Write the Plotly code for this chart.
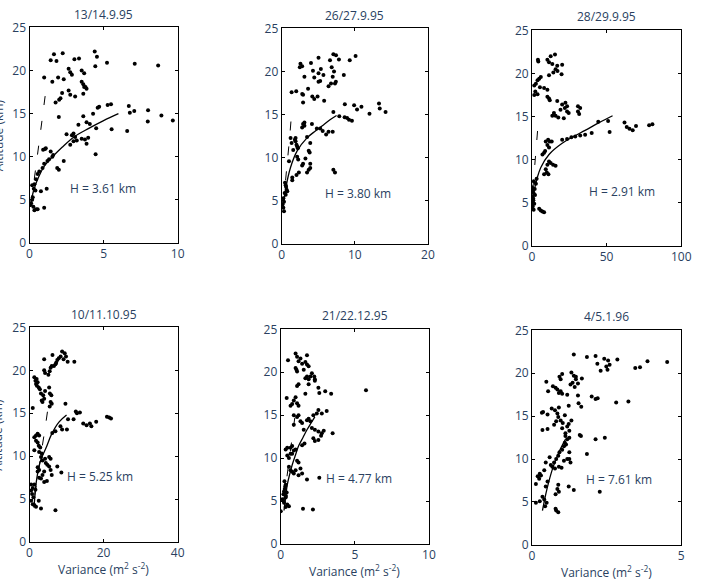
import plotly.graph_objects as go
from plotly.subplots import make_subplots

titles = ["13/14.9.95", "26/27.9.95", "28/29.9.95", "10/11.10.95", "21/22.12.95", "4/5.1.96"]
h_labels = ["H = 3.61 km", "H = 3.80 km", "H = 2.91 km", "H = 5.25 km", "H = 4.77 km", "H = 7.61 km"]
x_ranges = [[0, 10], [0, 20], [0, 100], [0, 40], [0, 10], [0, 5]]
x_ticks = [[0, 5, 10], [0, 10, 20], [0, 50, 100], [0, 20, 40], [0, 5, 10], [0, 5]]
y_ticks = [0, 5, 10, 15, 20, 25]
label_pos = [(4.95, 6.3), (10.4, 5.8), (60.2, 6.3), (18.9, 7.6), (5.3, 7.6), (2.93, 7.6)]

# ---- panel 1 ----
p1_var = [1.43, 1.65, 1.82, 2.24, 0.99, 1.54, 1.93, 2.31, 2.2, 2.09, 2.0, 1.76, 2.64, 2.75, 2.64, 2.75, 2.86,
          3.03, 3.34, 3.52, 3.69, 3.52, 3.63, 3.69, 3.78, 3.85, 3.63, 3.08, 4.4, 4.55, 4.44, 5.23, 7.1, 8.68, 1.98,
          4.6, 4.7, 5.27, 5.5, 6.7, 6.77, 7.07, 8.0, 8.9, 9.67, 7.98, 6.59, 5.54, 4.5, 4.29, 3.63, 3.85, 3.3, 2.97,
          2.86, 3.08, 2.75, 2.97, 3.19, 3.52, 3.74, 3.85, 3.96, 4.07, 4.46, 2.31, 1.87, 1.98, 1.43, 1.54, 1.32,
          1.21, 0.99, 0.88, 0.92, 1.05, 0.66, 0.55, 0.44, 0.33, 0.18, 0.29, 0.4, 0.77, 1.16, 0.18, 0.11, 0.26,
          0.44, 0.33, 0.55, 0.99, 0.07, 0.22, 1.1, 1.6, 2.5]
p1_alt = [21.2, 21.9, 21.1, 22.0, 19.2, 18.7, 19.2, 19.0, 17.4, 16.8, 16.6, 16.3, 17.7, 17.2, 20.2, 19.8, 19.5,
          21.3, 21.4, 20.0, 19.7, 18.7, 18.4, 18.1, 18.1, 17.9, 17.3, 17.0, 22.2, 21.6, 20.5, 20.9, 20.8, 20.6, 14.6,
          15.7, 15.8, 16.0, 16.1, 15.9, 15.1, 15.3, 15.4, 14.8, 14.2, 14.1, 13.0, 13.2, 13.3, 15.0, 14.7, 14.0, 13.7,
          12.7, 12.5, 12.3, 11.4, 11.8, 11.9, 12.1, 12.0, 11.5, 12.2, 13.8, 10.3, 9.5, 8.7, 8.5, 10.6, 10.0, 9.7,
          9.5, 9.2, 8.7, 10.8, 10.9, 8.3, 8.0, 7.4, 6.8, 6.7, 6.3, 6.1, 6.0, 6.3, 5.0, 4.6, 4.2, 3.9, 3.8, 3.9,
          4.1, 4.4, 5.3, 11.0, 10.2, 12.6]
p1_fit_var = [0.1, 0.3, 0.6, 1.0, 1.5, 2.2, 3.0, 4.0, 5.0, 6.0]
p1_fit_alt = [4.8, 6.2, 7.6, 8.9, 9.9, 11.1, 12.3, 13.3, 14.2, 15.0]
p1_dash_var = [0.1, 0.35, 0.6, 0.85, 1.15]
p1_dash_alt = [4.5, 7.6, 10.9, 14.3, 18.3]

# ---- panel 2 ----
p2_var = [2.56, 2.79, 2.47, 3.1, 4.0, 5.03, 4.27, 4.45, 5.03, 5.35, 5.7, 5.26, 5.03, 6.6, 7.06, 7.42, 7.82, 6.83,
          7.15, 6.97, 6.74, 7.28, 7.4, 6.4, 8.49, 9.3, 10.1, 1.98, 1.35, 2.8, 2.92, 3.6, 4.18, 4.45, 4.9, 5.8, 2.92,
          8.63, 9.9, 10.3, 10.9, 12.0, 13.3, 13.4, 14.2, 7.06, 7.87, 8.6, 8.94, 9.2, 9.6, 6.07, 6.4, 6.97, 4.8,
          5.26, 5.6, 4.13, 3.1, 2.92, 3.1, 2.79, 3.46, 3.9, 3.69, 3.82, 3.24, 2.92, 2.79, 3.9, 3.9, 3.69, 3.46,
          2.34, 2.02, 1.44, 1.44, 2.11, 2.25, 0.99, 1.89, 1.89, 2.02, 2.11, 1.35, 1.21, 1.57, 7.06, 7.28, 0.54,
          0.67, 0.4, 0.22, 0.31, 0.09, 0.22, 0.31, 0.54, 0.76, 1.8, 2.2, 0.45, 0.6]
p2_alt = [20.9, 20.6, 20.5, 19.4, 21.0, 21.6, 20.1, 19.3, 19.8, 20.3, 19.6, 18.9, 18.8, 21.3, 22.0, 21.9, 21.4, 20.5,
          20.0, 19.4, 18.6, 18.6, 18.8, 18.3, 19.6, 21.3, 21.8, 17.7, 17.6, 17.4, 16.4, 18.0, 17.1, 16.8, 17.1, 16.6, 17.3,
          16.2, 16.1, 15.6, 15.9, 15.1, 16.3, 15.7, 15.3, 15.3, 14.8, 14.7, 14.6, 14.4, 14.3, 12.7, 13.0, 13.0, 13.4,
          13.4, 13.1, 13.9, 14.1, 13.9, 13.7, 13.5, 12.4, 11.7, 10.8, 10.6, 9.9, 9.3, 9.1, 9.3, 8.8, 8.6, 8.3,
          8.3, 8.0, 7.7, 7.4, 10.1, 9.8, 9.6, 12.3, 11.9, 11.5, 11.3, 11.7, 12.3, 10.9, 8.6, 8.3, 6.8,
          6.3, 5.9, 5.3, 4.9, 4.6, 4.2, 3.8, 5.7, 6.1, 12.1, 11.1, 7.1, 6.6]
p2_fit_var = [0.22, 0.54, 1.21, 2.11, 3.46, 4.6, 5.7, 6.6, 7.5]
p2_fit_alt = [4.2, 6.4, 8.9, 10.8, 12.3, 13.1, 13.8, 14.4, 14.9]
p2_dash_var = [0.2, 0.55, 0.85, 1.1, 1.35]
p2_dash_alt = [4.5, 7.5, 10.0, 12.5, 15.2]

# ---- panel 3 ----
p3_var = [4.2, 3.96, 10.3, 12.5, 15.4, 11.4, 13.6, 16.9, 20.2, 15.8, 17.1, 11.4, 14.3, 19.8, 4.8, 5.9, 3.7, 2.6,
          1.5, 5.3, 8.1, 10.3, 2.2, 1.5, 3.7, 10.3, 11.4, 11.9, 16.9, 20.2, 22.4, 22.0, 23.5, 23.5, 24.6, 19.1,
          14.7, 15.8, 13.6, 17.6, 21.3, 30.8, 32.3, 30.8, 31.6, 62.0, 63.5, 65.3, 67.5, 69.7, 78.5, 80.7, 52.0,
          51.0, 44.4, 40.0, 35.6, 32.3, 29.0, 26.4, 23.5, 20.2, 9.2, 10.8, 11.9, 13.2, 10.3, 11.4, 8.1, 7.0, 8.8,
          11.4, 12.5, 14.1, 15.8, 10.3, 9.2, 9.9, 11.0, 8.1, 0.4, 1.1, 0.0, 0.9, 1.5, 0.4, 1.1, 0.0, 2.6, 3.1,
          4.8, 5.9, 7.0, 8.1, 0.6, 0.8, 1.8, 2.0, 0.3, 1.2]
p3_alt = [21.4, 21.6, 21.6, 22.0, 22.2, 21.3, 21.1, 20.9, 21.0, 20.5, 20.3, 19.8, 20.1, 19.9, 19.4, 19.6, 19.2, 18.8,
          18.6, 18.4, 18.3, 18.1, 17.9, 17.5, 17.6, 17.3, 17.1, 16.9, 16.8, 16.4, 16.6, 16.0, 16.2, 15.6, 15.4, 15.8,
          15.4, 15.1, 15.1, 14.9, 14.8, 16.2, 16.0, 15.6, 15.3, 14.3, 13.8, 13.6, 13.4, 13.9, 14.0, 14.1, 13.2,
          14.5, 14.4, 13.1, 12.9, 12.8, 12.7, 12.6, 12.4, 12.3, 12.1, 12.3, 12.1, 12.1, 11.7, 11.4, 10.8, 10.6, 11.0,
          9.8, 9.6, 9.4, 9.3, 9.4, 8.9, 8.5, 8.3, 8.3, 6.4, 6.1, 5.7, 5.3, 4.9, 4.6, 4.2, 6.8, 7.2, 7.8,
          4.3, 4.1, 4.0, 3.9, 5.0, 5.5, 6.6, 5.9, 4.4, 7.5]
p3_fit_var = [0.4, 1.5, 3.5, 5.9, 11.4, 20.2, 28.0, 35.6, 45.0, 54.0]
p3_fit_alt = [4.2, 6.4, 7.9, 9.1, 10.6, 11.9, 12.7, 13.4, 14.3, 15.1]
p3_dash_var = [0.5, 1.5, 2.5, 3.5, 4.5]
p3_dash_alt = [6.5, 8.8, 11.0, 13.0, 15.0]

# ---- panel 4 ----
p4_var = [0.88, 1.3, 1.6, 1.76, 1.93, 2.2, 2.0, 2.5, 2.8, 3.1, 3.3, 3.96, 3.5, 3.7, 4.2, 3.96, 4.2, 3.96, 5.1,
          5.45, 5.7, 6.0, 6.2, 6.6, 7.0, 7.2, 7.5, 7.9, 8.4, 8.8, 9.5, 9.85, 9.2, 10.3, 12.1, 5.3, 5.5, 5.9, 5.7,
          5.45, 6.0, 9.7, 12.5, 12.8, 13.6, 11.9, 10.4, 10.1, 14.5, 15.4, 16.3, 16.7, 18.0, 20.9, 21.5, 22.0,
          8.35, 8.8, 7.0, 6.15, 1.3, 1.76, 2.2, 2.6, 1.76, 2.2, 2.5, 1.3, 2.6, 2.9, 3.3, 3.1, 3.5, 4.2, 5.3,
          5.7, 4.4, 4.8, 5.3, 5.7, 7.5, 8.6, 6.0, 3.96, 3.5, 3.1, 2.6, 3.96, 4.7, 2.2, 2.2, 2.6, 0.44, 0.88,
          0.44, 0.7, 1.05, 0.44, 0.88, 1.3, 1.76, 2.5, 3.1, 7.0, 1.3, 1.6]
p4_alt = [15.6, 19.2, 18.8, 18.4, 19.0, 18.6, 18.2, 18.0, 17.8, 17.3, 16.5, 16.7, 16.3, 17.1, 17.6, 20.0, 19.7, 21.3, 19.5,
          19.9, 20.3, 20.5, 21.8, 20.5, 20.7, 20.9, 21.2, 21.4, 21.6, 22.2, 22.0, 21.6, 21.3, 21.0, 21.0, 18.0, 17.3, 17.1, 16.3,
          15.8, 16.1, 16.1, 15.2, 15.0, 15.1, 14.3, 14.3, 13.1, 13.8, 13.6, 13.8, 13.5, 14.0, 14.6, 14.5, 14.4,
          13.5, 13.1, 12.9, 12.7, 12.2, 12.4, 12.6, 12.4, 11.8, 11.6, 11.2, 10.7, 10.5, 11.0, 10.3, 9.9, 9.5, 9.7, 9.9,
          9.7, 9.2, 9.0, 8.8, 8.4, 8.8, 8.1, 7.8, 8.2, 7.8, 7.4, 7.5, 7.0, 7.1, 8.2, 8.7, 8.4, 6.7, 6.3,
          6.0, 5.6, 5.2, 4.8, 4.4, 4.3, 4.1, 4.8, 3.9, 3.7, 6.7, 6.1]
p4_fit_var = [1.2, 1.6, 2.0, 3.0, 4.5, 6.0, 8.0, 10.0]
p4_fit_alt = [4.0, 6.0, 7.5, 9.5, 11.0, 12.6, 14.0, 14.8]
p4_dash_var = [1.4, 2.4, 3.4, 4.4, 5.3]
p4_dash_alt = [5.5, 8.2, 11.0, 13.8, 16.6]

# ---- panel 5 ----
p5_var = [0.49, 1.0, 1.1, 1.33, 1.2, 1.44, 1.77, 1.66, 1.77, 1.88, 1.0, 1.1, 1.06, 1.55, 2.1, 2.0, 1.77, 1.66,
          1.88, 2.26, 2.3, 1.2, 1.1, 1.88, 2.3, 1.66, 2.54, 2.6, 3.0, 3.4, 5.75, 0.4, 1.0, 0.88, 0.77, 0.66, 1.2,
          1.1, 0.88, 1.1, 1.2, 0.88, 1.33, 1.44, 1.77, 1.88, 2.0, 2.2, 2.54, 2.77, 3.1, 2.43, 1.55, 2.1, 2.3,
          2.54, 2.77, 2.9, 2.2, 2.3, 2.54, 2.72, 3.5, 1.6, 1.44, 0.33, 0.44, 0.66, 0.77, 0.88, 0.44, 0.55, 0.66,
          0.77, 1.0, 1.1, 1.2, 1.33, 1.0, 0.88, 1.2, 1.44, 1.77, 2.6, 0.55, 0.66, 0.77, 0.33, 0.27, 0.22, 0.18,
          0.33, 0.4, 0.11, 0.22, 0.44, 0.55, 0.33, 0.0, 1.5, 2.17, 0.25, 0.3, 0.35, 0.2]
p5_alt = [21.4, 22.2, 21.8, 21.6, 21.3, 21.0, 22.0, 21.2, 20.9, 20.7, 20.5, 20.1, 20.3, 20.3, 19.9, 19.5, 19.5, 19.3,
          19.2, 19.5, 19.2, 18.6, 18.4, 18.6, 19.0, 17.5, 18.2, 17.6, 17.8, 17.5, 17.9, 17.0, 17.1, 16.7, 16.3, 16.1, 16.1,
          16.4, 15.0, 14.8, 15.0, 13.9, 14.3, 14.1, 14.4, 14.6, 14.3, 15.0, 15.6, 15.2, 15.5, 15.2, 13.3, 13.5, 13.3,
          13.1, 12.9, 13.2, 12.3, 12.0, 12.1, 12.6, 12.9, 11.7, 11.5, 11.0, 11.2, 11.2, 11.4, 10.9, 10.3, 10.0, 10.5,
          10.5, 11.0, 9.7, 9.5, 8.8, 8.6, 8.2, 8.0, 8.2, 7.5, 7.7, 9.0, 8.6, 8.4, 6.9, 6.4, 6.1, 5.8,
          5.4, 6.0, 5.2, 4.8, 4.6, 4.4, 4.3, 3.8, 4.1, 4.0, 7.3, 6.7, 5.6, 5.0]
p5_fit_var = [0.22, 0.33, 0.44, 0.6, 0.77, 1.0, 1.2, 1.5, 1.77, 2.05, 2.3]
p5_fit_alt = [3.9, 5.5, 6.9, 8.1, 9.2, 10.4, 11.4, 12.4, 13.3, 14.1, 14.8]
p5_dash_var = [0.2, 0.4, 0.6, 0.8, 1.0]
p5_dash_alt = [5.0, 7.6, 10.2, 12.8, 15.4]

# ---- panel 6 ----
p6_var = [1.4, 1.84, 2.13, 2.42, 2.19, 2.55, 2.49, 2.6, 2.53, 2.3, 2.86, 3.46, 3.62, 3.87, 4.53, 0.48, 0.54, 0.7,
          0.79, 0.85, 0.9, 0.96, 1.01, 0.92, 1.01, 0.96, 1.32, 1.4, 1.47, 1.36, 1.29, 1.43, 1.54, 1.67, 1.47, 1.18,
          1.54, 1.56, 1.65, 1.23, 2.0, 2.13, 2.2, 2.82, 3.23, 0.33, 0.37, 0.52, 0.66, 0.77, 0.9, 0.35, 0.52, 0.74,
          0.81, 0.88, 0.85, 0.96, 1.03, 1.1, 1.01, 1.18, 1.23, 1.12, 1.25, 1.32, 1.12, 1.18, 1.1, 1.07, 1.14, 1.6,
          1.64, 2.13, 2.44, 1.25, 1.01, 0.92, 0.88, 0.81, 0.74, 0.68, 0.77, 0.9, 1.07, 1.18, 1.25, 1.25, 1.29,
          0.99, 0.59, 0.63, 0.46, 0.41, 0.26, 0.3, 0.19, 0.24, 0.13, 0.46, 0.52, 1.84, 1.23, 1.4, 2.27, 0.88,
          0.85, 0.79, 0.9, 0.13, 0.26, 0.35, 0.41, 0.49, 0.44, 0.81, 0.88, 0.79]
p6_alt = [22.2, 21.9, 22.0, 21.7, 21.1, 21.5, 20.8, 21.0, 20.4, 20.3, 21.6, 20.6, 20.7, 21.4, 21.3, 19.0, 17.9, 18.5,
          18.3, 18.1, 17.7, 17.9, 17.6, 19.6, 19.9, 19.3, 20.1, 19.7, 19.3, 18.9, 18.7, 18.4, 18.8, 19.4, 19.6, 17.5,
          17.4, 16.5, 16.1, 16.2, 17.3, 17.0, 17.1, 16.6, 16.7, 15.4, 15.5, 15.2, 15.9, 15.7, 16.0, 13.4, 13.5, 14.0,
          14.4, 14.9, 15.3, 14.5, 14.2, 15.1, 13.6, 13.8, 14.1, 13.0, 13.3, 14.5, 12.7, 12.3, 11.9, 11.5, 11.7, 12.8,
          12.7, 12.3, 12.5, 12.5, 11.1, 10.8, 10.4, 10.0, 9.6, 9.1, 8.9, 9.1, 9.8, 10.0, 10.8, 10.0, 9.6,
          9.0, 10.2, 9.3, 9.6, 8.7, 8.3, 8.1, 8.0, 7.7, 7.1, 6.8, 7.4, 10.6, 6.8, 6.4, 6.2, 7.0,
          6.5, 5.9, 6.2, 4.9, 5.1, 5.6, 5.3, 4.9, 4.5, 4.0, 3.8, 4.2]
p6_fit_var = [0.35, 0.5, 0.7, 0.9, 1.12]
p6_fit_alt = [4.0, 6.5, 9.0, 10.8, 12.3]
p6_dash_var = []
p6_dash_alt = []

scatter_x = [p1_var, p2_var, p3_var, p4_var, p5_var, p6_var]
scatter_y = [p1_alt, p2_alt, p3_alt, p4_alt, p5_alt, p6_alt]
fit_x = [p1_fit_var, p2_fit_var, p3_fit_var, p4_fit_var, p5_fit_var, p6_fit_var]
fit_y = [p1_fit_alt, p2_fit_alt, p3_fit_alt, p4_fit_alt, p5_fit_alt, p6_fit_alt]
dash_x = [p1_dash_var, p2_dash_var, p3_dash_var, p4_dash_var, p5_dash_var, p6_dash_var]
dash_y = [p1_dash_alt, p2_dash_alt, p3_dash_alt, p4_dash_alt, p5_dash_alt, p6_dash_alt]

W, H = 702, 583
# pixel boxes (left, right, top, bottom)
boxes = [(27, 178, 19, 241), (284, 433, 20, 242), (539, 691, 22, 244),
         (27, 178, 328, 549), (283, 434, 330, 551), (539, 691, 331, 552)]

fig = make_subplots(rows=2, cols=3)
for i in range(6):
    r, c = i // 3 + 1, i % 3 + 1
    fig.add_trace(go.Scatter(x=scatter_x[i], y=scatter_y[i], mode="markers",
                             marker=dict(color="black", size=4)), row=r, col=c)
    fig.add_trace(go.Scatter(x=fit_x[i], y=fit_y[i], mode="lines",
                             line=dict(color="black", width=1.3, shape="spline")), row=r, col=c)
    if dash_x[i]:
        fig.add_trace(go.Scatter(x=dash_x[i], y=dash_y[i], mode="lines",
                                 line=dict(color="black", width=1, dash="9px,16px")), row=r, col=c)
    L, R, T, B = boxes[i]
    sfx = "" if i == 0 else str(i + 1)
    common = dict(showline=True, linecolor="black", linewidth=1, mirror="allticks", ticks="inside", ticklen=3,
                  tickcolor="black", showgrid=False, zeroline=False)
    fig.layout["xaxis" + sfx].update(domain=[L / W, R / W], range=x_ranges[i], tickvals=x_ticks[i], **common)
    fig.layout["yaxis" + sfx].update(domain=[1 - B / H, 1 - T / H], range=[0, 25], tickvals=y_ticks, **common)
    xa = "x" if i == 0 else "x" + str(i + 1)
    ya = "y" if i == 0 else "y" + str(i + 1)
    fig.add_annotation(x=(L + R) / 2 / W, y=1 - (T - 3) / H, xref="paper", yref="paper", text=titles[i],
                       showarrow=False, xanchor="center", yanchor="bottom")
    fig.add_annotation(x=label_pos[i][0], y=label_pos[i][1], xref=xa, yref=ya, text=h_labels[i],
                       showarrow=False, xanchor="center", yanchor="middle")
    if i >= 3:
        fig.add_annotation(x=(L + R) / 2 / W, y=1 - (B + 17) / H, xref="paper", yref="paper",
                           text="Variance (m<sup>2</sup> s<sup>-2</sup>)", showarrow=False,
                           xanchor="center", yanchor="top")

# y-axis titles, mostly cut off at the left edge (as in the reference)
for T, B in [(19, 241), (328, 549)]:
    fig.add_annotation(x=-5 / W, y=1 - (T + B) / 2 / H, xref="paper", yref="paper", text="Altitude (km)",
                       textangle=-90, showarrow=False, xanchor="center", yanchor="middle")

fig.update_layout(width=W, height=H, margin=dict(l=0, r=0, t=0, b=0),
                  paper_bgcolor="white", plot_bgcolor="white", showlegend=False)
fig.write_html("out.html")
